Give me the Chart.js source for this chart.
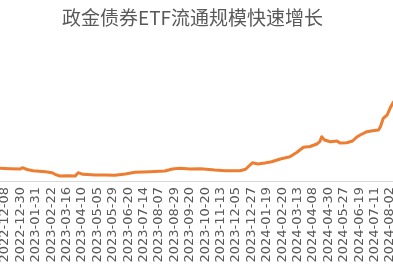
<!DOCTYPE html>
<html>
<head>
<meta charset="utf-8">
<script src="https://cdn.jsdelivr.net/npm/chart.js@4/dist/chart.umd.min.js"></script>
<style>
  html, body { margin: 0; padding: 0; background: #fff; overflow: hidden; }
  body { width: 393px; height: 267px; position: relative; }
  #wrap { position: absolute; left: -16px; top: 0; width: 417px; height: 267px; }
</style>
</head>
<body>
<div id="wrap"><canvas id="sizeChart"></canvas></div>
<script>
// tick labels, one every 16 trading days
const tickDates = [
    '2022-12-08', '2022-12-30', '2023-01-31', '2023-02-22', '2023-03-16', '2023-04-10',
    '2023-05-05', '2023-05-29', '2023-06-20', '2023-07-14', '2023-08-07', '2023-08-29',
    '2023-09-20', '2023-10-20', '2023-11-13', '2023-12-05', '2023-12-27', '2024-01-19',
    '2024-02-20', '2024-03-13', '2024-04-08', '2024-04-30', '2024-05-27', '2024-06-19',
    '2024-07-11', '2024-08-02'
];
const tickStep = 16;

// trading days counted from 2022-12-08
const dayIndex = [
    -22, -5, 5, 16, 18, 23, 29, 42, 49, 52, 57, 65, 73, 76, 81, 94, 104, 114, 125, 135,
    151, 166, 174, 182, 192, 203, 218, 229, 244, 250, 257, 263, 270, 277, 286, 296, 303,
    310, 317, 324, 327, 329, 332, 338, 345, 348, 355, 361, 366, 369, 376, 382, 388, 390,
    393, 397, 400, 403, 411
];
// circulating size (arbitrary units)
const scaleValues = [
    12.7, 12.7, 12.3, 12, 13.3, 11.5, 10.3, 9.3, 8.3, 6.7, 5, 5.3, 5, 8.3, 6.7, 6, 6, 5.7, 7, 8.7,
    9.3, 10, 12, 12.7, 12, 12.3, 11, 10.3, 10.3, 11.7, 18.3, 17, 18, 19.3, 22, 24.3, 28.5,
    33.7, 34.5, 37, 39.3, 44.3, 41, 39.3, 40, 38, 38.3, 40, 44.3, 46, 49.3, 50.3, 51, 54.3,
    62.7, 66, 72.7, 78, 88
];

const points = dayIndex.map((d, i) => ({ x: d, y: scaleValues[i] }));

const ctx = document.getElementById('sizeChart').getContext('2d');
new Chart(ctx, {
    type: 'line',
    data: {
        datasets: [{
            data: points,
            borderColor: '#ED7D31',
            borderWidth: 3,
            borderJoinStyle: 'round',
            borderCapStyle: 'round',
            pointRadius: 0,
            tension: 0,
            fill: false
        }]
    },
    options: {
        responsive: true,
        maintainAspectRatio: false,
        animation: false,
        layout: { padding: 0 },
        plugins: {
            legend: { display: false },
            tooltip: { enabled: false },
            title: {
                display: true,
                text: '政金债券ETF流通规模快速增长',
                color: '#595959',
                font: { family: 'Noto Sans CJK SC', size: 19, weight: 'normal', lineHeight: 1.2 },
                padding: { top: 6, bottom: 2.2 }
            }
        },
        scales: {
            x: {
                type: 'linear',
                min: -21.8,
                max: 411.4,
                grid: { display: false, drawTicks: false },
                border: { display: true, color: '#d9d9d9', width: 1 },
                afterBuildTicks: (scale) => {
                    scale.ticks = tickDates.map((d, i) => ({ value: i * tickStep }));
                },
                afterFit: (scale) => {
                    // the picture is cropped, so keep the plot full width
                    scale.height = 86;
                    scale.paddingLeft = 0;
                    scale.paddingRight = 0;
                },
                ticks: {
                    autoSkip: false,
                    minRotation: 90,
                    maxRotation: 90,
                    padding: 6,
                    color: '#595959',
                    font: { family: 'DejaVu Sans', size: 13 },
                    callback: (value) => tickDates[Math.round(value / tickStep)]
                }
            },
            y: {
                display: false,
                min: 0,
                max: 150
            }
        }
    }
});
</script>
</body>
</html>
